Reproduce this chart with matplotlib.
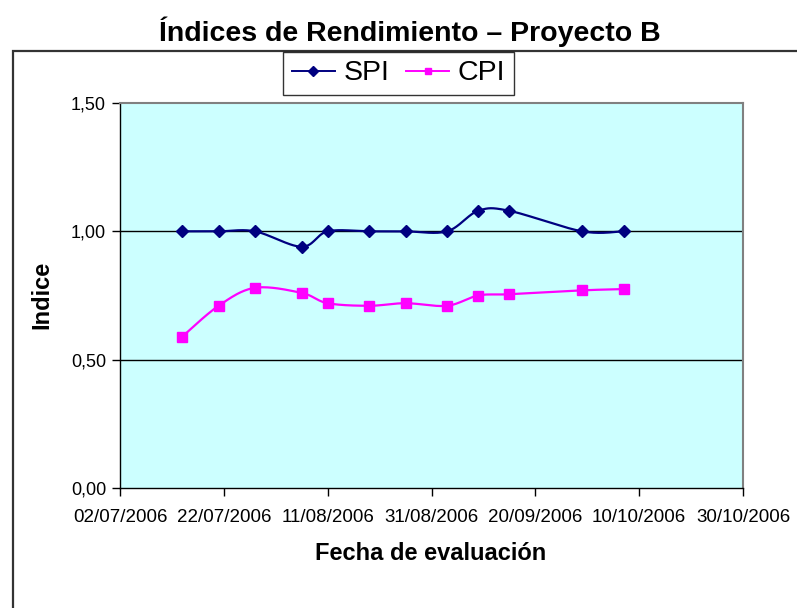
import matplotlib
matplotlib.use("Agg")
import matplotlib.pyplot as plt
import matplotlib.dates as mdates
from matplotlib.patches import Rectangle
import numpy as np
import datetime as dt

plt.rcParams['font.family'] = ['Liberation Sans', 'DejaVu Sans']

# ---- data ----
fechas = ["14/07/2006", "21/07/2006", "28/07/2006", "06/08/2006", "11/08/2006",
          "19/08/2006", "26/08/2006", "03/09/2006", "09/09/2006", "15/09/2006",
          "29/09/2006", "07/10/2006"]
spi = [1.00, 1.00, 1.00, 0.94, 1.00, 1.00, 1.00, 1.00, 1.08, 1.08, 1.00, 1.00]
cpi = [0.59, 0.71, 0.78, 0.76, 0.72, 0.71, 0.72, 0.71, 0.75, 0.755, 0.77, 0.775]
y_ticks = [0.0, 0.5, 1.0, 1.5]
y_ticklabels = ["0,00", "0,50", "1,00", "1,50"]
x_start = "02/07/2006"
x_end = "30/10/2006"
titulo = "Índices de Rendimiento – Proyecto B"
xlabel = "Fecha de evaluación"
ylabel = "Indice"

def parse(s):
    return dt.datetime.strptime(s, "%d/%m/%Y")

x = mdates.date2num([parse(s) for s in fechas])
x0 = mdates.date2num(parse(x_start))
x1 = mdates.date2num(parse(x_end))

def smooth(xs, ys, n=30):
    xs = np.asarray(xs, float); ys = np.asarray(ys, float)
    P = np.column_stack([xs, ys])
    Pe = np.vstack([P[0], P, P[-1]])
    out = []
    t = np.linspace(0, 1, n)
    for i in range(len(P) - 1):
        p0, p1, p2, p3 = Pe[i], Pe[i + 1], Pe[i + 2], Pe[i + 3]
        b0 = p1
        b1 = p1 + (p2 - p0) / 6.0
        b2 = p2 - (p3 - p1) / 6.0
        b3 = p2
        seg = ((1 - t) ** 3)[:, None] * b0 + (3 * (1 - t) ** 2 * t)[:, None] * b1 \
            + (3 * (1 - t) * t ** 2)[:, None] * b2 + (t ** 3)[:, None] * b3
        out.append(seg if i == 0 else seg[1:])
    c = np.vstack(out)
    return c[:, 0], c[:, 1]

W, H = 797, 608
fig = plt.figure(figsize=(W / 100, H / 100), dpi=100)
fig.patch.set_facecolor('white')

# chart border
fig.patches.append(Rectangle((12.5 / W, -0.1), 1.2, 1 - 51 / H + 0.1,
                             transform=fig.transFigure, fill=False,
                             edgecolor='#333333', linewidth=1.6, zorder=0))

L, R, T, B = 120, 743, 103, 488
ax = fig.add_axes([L / W, 1 - B / H, (R - L) / W, (B - T) / H])
ax.set_facecolor('#CCFFFF')

ax.set_xlim(x0, x1)
ax.set_ylim(0, 1.5)
ax.set_yticks(y_ticks)
ax.set_yticklabels(y_ticklabels, fontsize=13)
ticks = np.arange(x0, x1 + 0.5, 20)
ax.set_xticks(ticks)
ax.xaxis.set_major_formatter(mdates.DateFormatter('%d/%m/%Y'))
ax.tick_params(axis='x', labelsize=13.5, length=6, width=1, direction='out', pad=9)
ax.tick_params(axis='y', length=6, width=1, direction='out', pad=4)

for yv in [0.5, 1.0]:
    ax.axhline(yv, color='black', linewidth=1, zorder=1)

for s in ['top', 'right']:
    ax.spines[s].set_color('#808080')
    ax.spines[s].set_linewidth(1.5)
for s in ['left', 'bottom']:
    ax.spines[s].set_color('black')
    ax.spines[s].set_linewidth(1)

sx, sy = smooth(x, spi)
cx, cy = smooth(x, cpi)
ax.plot(sx, sy, color='#000080', linewidth=1.6, zorder=3)
ax.plot(cx, cy, color='#FF00FF', linewidth=1.6, zorder=3)
ax.plot(x, spi, linestyle='none', marker='D', markersize=6.5, color='#000080', zorder=4)
ax.plot(x, cpi, linestyle='none', marker='s', markersize=7.5, color='#FF00FF', zorder=4)

h1, = ax.plot([], [], color='#000080', linewidth=1.4, marker='D', markersize=5)
h2, = ax.plot([], [], color='#FF00FF', linewidth=1.4, marker='s', markersize=5)

leg = fig.legend([h1, h2], ["SPI", "CPI"], loc='center',
                 bbox_to_anchor=(398.5 / W, 1 - 73.5 / H), ncol=2,
                 fontsize=20.5, frameon=True, fancybox=False, shadow=False,
                 handlelength=1.5, handletextpad=0.3, columnspacing=0.6,
                 borderpad=0.3, borderaxespad=0)
leg.get_frame().set_edgecolor('black')
leg.get_frame().set_linewidth(1)

fig.text(410 / W, 1 - 32 / H, titulo, ha='center', va='center',
         fontsize=20.5, fontweight='bold')
fig.text(431 / W, 1 - 553 / H, xlabel, ha='center', va='center',
         fontsize=17, fontweight='bold')
fig.text(42 / W, 1 - 295 / H, ylabel, ha='center', va='center',
         fontsize=17, fontweight='bold', rotation=90)

fig.savefig('out.png', dpi=100)
